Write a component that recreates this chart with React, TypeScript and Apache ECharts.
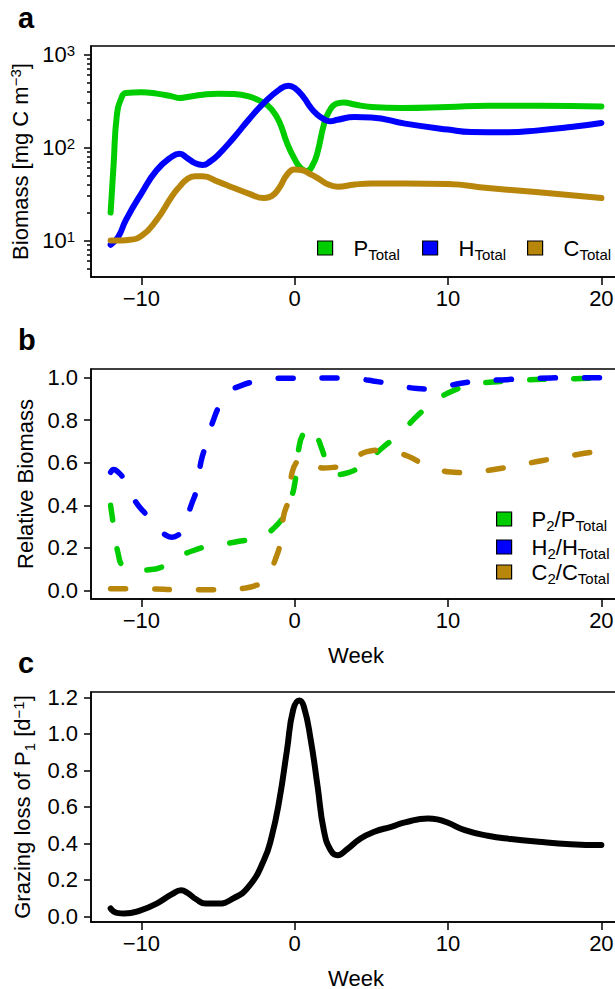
import React, { useEffect, useRef } from 'react';
import * as echarts from 'echarts';

const FONT = '"Liberation Sans", Arial, Helvetica, sans-serif';
const GREEN = '#00CD00';
const BLUE = '#0000FF';
const GOLD = '#B8860B';

// Tick positions / labels
const xTicks = [-10, 0, 10, 20];
const logTicks = [10, 100, 1000];
const logMinorTicks = [5, 6, 7, 8, 9, 20, 30, 40, 50, 60, 70, 80, 90, 200, 300, 400, 500, 600, 700, 800, 900];
const relTicks = [0, 0.2, 0.4, 0.6, 0.8, 1.0];
const grazeTicks = [0, 0.2, 0.4, 0.6, 0.8, 1.0, 1.2];

// Panel a: total biomass (mg C m^-3)
const weeksPTotal = [-12, -11.8, -11.6, -11.3, -11, -10, -9, -8, -7.5, -7, -6, -5, -4, -3, -2, -1.5, -1, -0.5, 0, 0.4, 0.8, 1.2, 1.5, 1.9, 2.25, 2.7, 3.2, 3.9, 5, 7, 10, 12.6, 16, 20];
const pTotal = [20, 68, 217, 341, 386, 393, 380, 355, 341, 350, 370, 380, 377, 355, 302, 257, 190, 112, 75, 60, 56, 66, 90, 175, 245, 295, 305, 290, 273, 266, 273, 282, 282, 277];
const weeksHTotal = [-12, -11.5, -11, -10, -9, -8, -7.5, -7, -6.5, -6, -5.5, -5, -4, -3, -2, -1, -0.4, 0, 0.6, 1.0, 1.4, 1.9, 2.3, 2.8, 3.9, 5, 7.2, 10, 11.5, 13.7, 15.9, 18, 20];
const hTotal = [9, 11, 16.7, 32, 57, 80, 86, 77, 68, 65, 71, 83, 126, 199, 302, 420, 463, 437, 345, 275, 232, 202, 192, 199, 213, 211, 181, 156, 147, 146, 153, 166, 184];
const weeksCTotal = [-12, -11.5, -11, -10, -9, -8, -7.5, -7, -6.5, -6, -5, -4, -3, -2, -1.5, -1, -0.5, 0, 0.5, 1, 1.5, 2.2, 2.8, 3.9, 5, 7.2, 10, 12.6, 15.9, 20];
const cTotal = [10, 10, 10.1, 11.2, 16.7, 30, 38, 46, 49, 49, 43, 37, 32, 28.6, 30, 37, 51, 58, 57, 52, 47, 40, 38, 40, 41, 41, 40.5, 36.7, 33, 28.6];

// Panel b: relative biomass
const weeksP2 = [-12, -11.8, -11.5, -11.2, -10.5, -9.5, -8.5, -7.5, -6.5, -5.5, -4.5, -3.5, -2.5, -2, -1.4, -0.7, -0.3, 0, 0.3, 0.6, 1.0, 1.4, 1.8, 2.2, 2.8, 3.5, 4.6, 5.8, 6.8, 8.1, 9.0, 10.4, 11.7, 13.2, 14.5, 16.2, 17.5, 19.1, 20];
const p2Rel = [0.40, 0.30, 0.17, 0.115, 0.095, 0.097, 0.115, 0.16, 0.19, 0.21, 0.22, 0.232, 0.245, 0.26, 0.29, 0.35, 0.42, 0.50, 0.68, 0.74, 0.77, 0.73, 0.66, 0.575, 0.545, 0.553, 0.60, 0.675, 0.733, 0.827, 0.882, 0.94, 0.968, 0.98, 0.985, 0.992, 0.993, 0.996, 0.997];
const weeksH2 = [-12, -11.8, -11.5, -11.2, -10.4, -9.6, -8.9, -8.4, -8.0, -7.6, -7.3, -6.75, -6.4, -6.1, -5.77, -5.3, -4.8, -4.2, -3.5, -2.4, -1.5, -0.6, 0.6, 2, 3.4, 4.3, 5.1, 6.4, 7.3, 8.0, 8.7, 9.3, 10.0, 10.85, 12.2, 13.8, 15.1, 16.7, 18, 20];
const h2Rel = [0.555, 0.568, 0.555, 0.53, 0.42, 0.35, 0.29, 0.26, 0.25, 0.26, 0.285, 0.40, 0.474, 0.607, 0.686, 0.80, 0.88, 0.935, 0.962, 0.984, 0.993, 0.997, 0.997, 0.998, 0.997, 0.992, 0.984, 0.969, 0.955, 0.948, 0.946, 0.948, 0.96, 0.973, 0.984, 0.99, 0.995, 0.998, 0.999, 0.999];
const weeksC2 = [-12, -11, -10, -9.2, -8, -7, -6, -5, -4, -3.25, -2.6, -2.15, -1.7, -1.27, -0.94, -0.72, -0.4, -0.18, 0.1, 0.48, 0.8, 1.3, 1.9, 2.5, 3.0, 3.8, 4.5, 5.1, 5.7, 6.5, 7.4, 8.5, 9.3, 10.2, 11.4, 12.2, 13, 14.3, 16, 17.2, 18.9, 20];
const c2Rel = [0.008, 0.008, 0.007, 0.007, 0.004, 0.003, 0.003, 0.003, 0.005, 0.011, 0.022, 0.038, 0.075, 0.144, 0.223, 0.35, 0.427, 0.55, 0.60, 0.62, 0.615, 0.59, 0.575, 0.578, 0.584, 0.615, 0.647, 0.657, 0.66, 0.65, 0.63, 0.59, 0.57, 0.556, 0.553, 0.56, 0.568, 0.584, 0.608, 0.623, 0.644, 0.655];

// Panel c: grazing loss of P1 (d^-1)
const weeksGraze = [-12, -11.6, -11.1, -10, -9, -8, -7.4, -7, -6.4, -5.8, -5, -4, -3, -2, -1.5, -1, -0.5, -0.1, 0.3, 0.6, 1.05, 1.5, 1.9, 2.35, 2.8, 3.4, 4.3, 5.2, 6.3, 7.2, 8.7, 9.3, 10, 11.1, 12.6, 14.1, 15.9, 18, 20];
const grazeLoss = [0.044, 0.02, 0.016, 0.035, 0.071, 0.122, 0.144, 0.13, 0.093, 0.071, 0.071, 0.099, 0.163, 0.309, 0.437, 0.637, 0.911, 1.13, 1.182, 1.149, 0.966, 0.71, 0.473, 0.363, 0.336, 0.367, 0.427, 0.464, 0.491, 0.515, 0.537, 0.532, 0.513, 0.473, 0.442, 0.424, 0.409, 0.396, 0.391];

const pairs = (xs: number[], ys: number[]) => xs.map((x, i) => [x, ys[i]]);

const legendLabels: Record<string, string> = {
  'P_Total': '{m|P}{s|Total}',
  'H_Total': '{m|H}{s|Total}',
  'C_Total': '{m|C}{s|Total}',
  'P2/P_Total': '{m|P}{s|2}{n|/P}{s|Total}',
  'H2/H_Total': '{m|H}{s|2}{n|/H}{s|Total}',
  'C2/C_Total': '{m|C}{s|2}{n|/C}{s|Total}',
};

const BLACK = '#000';
const txt = { fontFamily: FONT, color: BLACK };

function makeRich(gap: number) {
  return {
    m: { ...txt, fontSize: 22, padding: [0, 0, 0, gap] },
    n: { ...txt, fontSize: 22 },
    s: { ...txt, fontSize: 15, padding: [13, 0, 0, 0] },
    p: { ...txt, fontSize: 15, padding: [0, 0, 9, 0] },
  };
}

const nameRich = {
  n: { ...txt, fontSize: 22 },
  s: { ...txt, fontSize: 15, padding: [13, 0, 0, 0] },
  p: { ...txt, fontSize: 15, padding: [0, 0, 9, 0] },
};

function xAxis(gi: number, withName: boolean) {
  return {
    type: 'value',
    gridIndex: gi,
    min: -13.28,
    max: 21.28,
    axisLine: { show: true, onZero: false, lineStyle: { color: BLACK, width: 1.5 } },
    axisTick: { show: true, customValues: xTicks, length: 8, lineStyle: { color: BLACK, width: 1.5 } },
    axisLabel: {
      customValues: xTicks,
      margin: 10,
      fontSize: 22,
      ...txt,
      formatter: (v: number) => String(v).replace('-', '\u2212'),
    },
    splitLine: { show: false },
    name: withName ? 'Week' : '',
    nameLocation: 'middle',
    nameGap: 45,
    nameTextStyle: { ...txt, fontSize: 22 },
  };
}

function linAxis(gi: number, ticks: number[], min: number, max: number, name: string, gap: number) {
  return {
    type: 'value',
    gridIndex: gi,
    min,
    max,
    axisLine: { show: true, onZero: false, lineStyle: { color: BLACK, width: 1.5 } },
    axisTick: { show: true, customValues: ticks, length: 7, lineStyle: { color: BLACK, width: 1.5 } },
    axisLabel: {
      customValues: ticks,
      margin: 13,
      fontSize: 22,
      ...txt,
      formatter: (v: number) => v.toFixed(1),
    },
    splitLine: { show: false },
    name,
    nameLocation: 'middle',
    nameGap: gap,
    nameTextStyle: { ...txt, fontSize: 22, rich: nameRich },
  };
}

function lineSeries(name: string, xi: number, yi: number, xs: number[], ys: number[], color: string, dashed: boolean) {
  return {
    type: 'line',
    name,
    xAxisIndex: xi,
    yAxisIndex: yi,
    data: pairs(xs, ys),
    showSymbol: false,
    symbol: 'none',
    smooth: 0.5,
    lineStyle: dashed
      ? { color, width: 5.5, type: [15, 29], cap: 'round', join: 'round' }
      : { color, width: 6, cap: 'round', join: 'round' },
    itemStyle: { color },
    emphasis: { disabled: true },
  };
}

function legendFor(name: string, left: number, top: number, gap: number) {
  return {
    data: [name],
    left,
    top,
    padding: 0,
    icon: 'rect',
    itemWidth: 15,
    itemHeight: 14,
    itemStyle: { borderColor: BLACK, borderWidth: 1.2 },
    selectedMode: false,
    formatter: (n: string) => legendLabels[n] || n,
    textStyle: { ...txt, fontSize: 22, rich: makeRich(gap) },
  };
}

const gridBase = { show: true, borderColor: BLACK, borderWidth: 1.5, backgroundColor: 'transparent', containLabel: false, outerBoundsMode: 'none' };

const titleStyle = { ...txt, fontSize: 29, fontWeight: 'bold' };

export default function App() {
  const ref = useRef<HTMLDivElement>(null);
  useEffect(() => {
    if (!ref.current) return;
    const chart = echarts.init(ref.current, undefined, { renderer: 'svg' });
    const option: any = {
      animation: false,
      backgroundColor: '#fff',
      title: [
        { text: 'a', left: 18, top: 3, padding: 0, textStyle: titleStyle },
        { text: 'b', left: 18, top: 325, padding: 0, textStyle: titleStyle },
        { text: 'c', left: 18, top: 648, padding: 0, textStyle: titleStyle },
      ],
      grid: [
        { ...gridBase, left: 91, top: 46, width: 530, height: 231 },
        { ...gridBase, left: 91, top: 369, width: 530, height: 230 },
        { ...gridBase, left: 91, top: 692, width: 530, height: 230 },
      ],
      xAxis: [xAxis(0, false), xAxis(1, true), xAxis(2, true)],
      yAxis: [
        {
          type: 'log',
          logBase: 10,
          gridIndex: 0,
          min: 4.055,
          max: 1236,
          axisLine: { show: true, onZero: false, lineStyle: { color: BLACK, width: 1.5 } },
          axisTick: { show: true, customValues: logTicks, length: 7, lineStyle: { color: BLACK, width: 1.5 } },
          axisLabel: {
            customValues: logTicks,
            margin: 16,
            ...txt,
            fontSize: 22,
            formatter: (v: number) => `{b|10}{p|${Math.round(Math.log10(v))}}`,
            rich: {
              b: { ...txt, fontSize: 22 },
              p: { ...txt, fontSize: 15, padding: [0, 0, 9, 0] },
            },
          },
          splitLine: { show: false },
          name: '{n|Biomass [mg C m}{p|\u22123}{n|]}',
          nameLocation: 'middle',
          nameGap: 54,
          nameTextStyle: { ...txt, fontSize: 22, rich: nameRich },
        },
        {
          type: 'log',
          logBase: 10,
          gridIndex: 0,
          position: 'left',
          min: 4.055,
          max: 1236,
          axisLine: { show: false, onZero: false },
          axisTick: { show: true, customValues: logMinorTicks, length: 4, lineStyle: { color: BLACK, width: 1.5 } },
          axisLabel: { show: false },
          splitLine: { show: false },
        },
        linAxis(1, relTicks, -0.04, 1.04, 'Relative Biomass', 50),
        linAxis(2, grazeTicks, -0.03, 1.229, '{n|Grazing loss of P}{s|1}{n| [d}{p|\u22121}{n|]}', 54),
      ],
      legend: [
        legendFor('P_Total', 317, 237, 16),
        legendFor('H_Total', 422, 237, 16),
        legendFor('C_Total', 527, 237, 16),
        legendFor('P2/P_Total', 496, 508, 15),
        legendFor('H2/H_Total', 496, 536, 15),
        legendFor('C2/C_Total', 496, 561, 15),
      ],
      series: [
        lineSeries('P_Total', 0, 0, weeksPTotal, pTotal, GREEN, false),
        lineSeries('H_Total', 0, 0, weeksHTotal, hTotal, BLUE, false),
        lineSeries('C_Total', 0, 0, weeksCTotal, cTotal, GOLD, false),
        lineSeries('P2/P_Total', 1, 2, weeksP2, p2Rel, GREEN, true),
        lineSeries('H2/H_Total', 1, 2, weeksH2, h2Rel, BLUE, true),
        lineSeries('C2/C_Total', 1, 2, weeksC2, c2Rel, GOLD, true),
        lineSeries('Grazing loss', 2, 3, weeksGraze, grazeLoss, BLACK, false),
      ],
    };
    chart.setOption(option);
    return () => chart.dispose();
  }, []);
  return (
    <div
      ref={ref}
      style={{ position: 'absolute', left: 0, top: 0, width: 615, height: 989, background: '#fff' }}
    />
  );
}
